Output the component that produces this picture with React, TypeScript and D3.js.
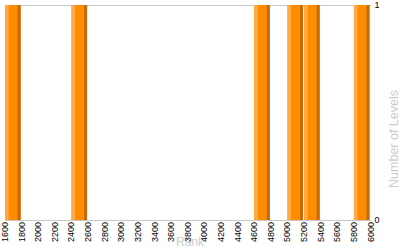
import React from "react";
import * as d3 from "d3";

const binStarts = [1600, 2400, 4600, 5000, 5200, 5800];
const levelCounts = [1, 1, 1, 1, 1, 1];
const binWidth = 200;
const xTicks = d3.range(1600, 6001, 200);
const yTicks = [0, 1];

export default function App() {
  const W = 400, H = 250;
  const left = 5, right = 370.5, top = 5, bottom = 220;
  const x = d3.scaleLinear().domain([1600, 6000]).range([left, right]);
  const y = d3.scaleLinear().domain([0, 1]).range([bottom, top]);
  const font = "'Liberation Sans', Arial, sans-serif";
  return (
    <svg width={W} height={H} style={{ position: "absolute", left: 0, top: 0 }} fontFamily={font}>
      <rect x={0} y={0} width={W} height={H} fill="#fff" />
      <line x1={left} x2={right + 0.5} y1={top + 0.5} y2={top + 0.5} stroke="#c8c8c8" />
      <line x1={left + 0.5} x2={left + 0.5} y1={top} y2={bottom} stroke="#c8c8c8" />
      {binStarts.map((s, i) => {
        const x0 = x(s);
        const x1 = x(s + binWidth) - 1;
        const w = x1 - x0;
        const yTop = y(levelCounts[i]);
        const h = bottom - yTop;
        return (
          <g key={i}>
            <rect x={x0} y={yTop} width={w} height={h} fill="#ff8c00" />
            <rect x={x0} y={yTop} width={3.5} height={h} fill="#ffab45" />
            <rect x={x1 - 3} y={yTop} width={3} height={h} fill="#c46a08" />
          </g>
        );
      })}
      <line x1={left} x2={right + 0.5} y1={bottom + 0.5} y2={bottom + 0.5} stroke="#c8c8c8" />
      <text x={190} y={246} textAnchor="middle" fontSize={12} fill="#cccccc">
        Rank
      </text>
      {xTicks.map((t) => (
        <text
          key={t}
          transform={`translate(${x(t) + 3},${bottom + 2}) rotate(-90)`}
          textAnchor="end"
          fontSize={9}
          fill="#000"
        >
          {t}
        </text>
      ))}
      {yTicks.map((t) => (
        <text key={t} x={right + 4} y={y(t) + 3} fontSize={9} fill="#000">
          {t}
        </text>
      ))}
      <text transform="translate(398,139) rotate(-90)" textAnchor="middle" fontSize={12.5} fill="#cccccc">
        Number of Levels
      </text>
    </svg>
  );
}
